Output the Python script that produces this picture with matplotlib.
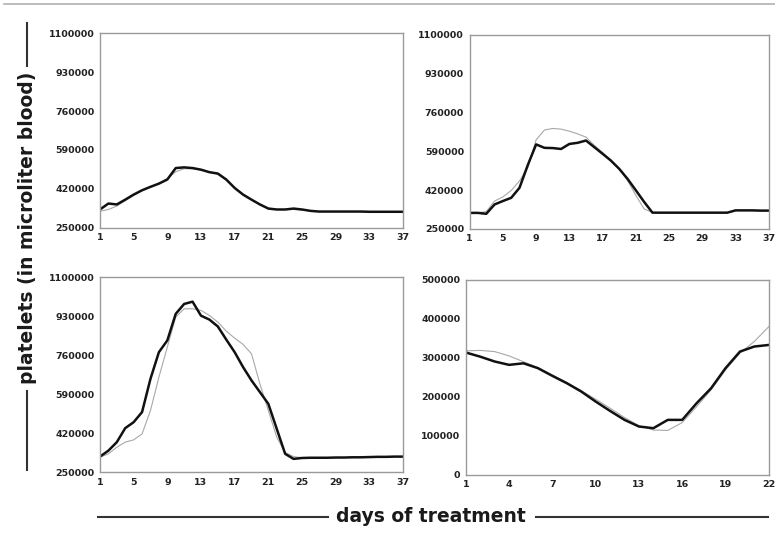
import numpy as np
import matplotlib
matplotlib.use("Agg")
import matplotlib.pyplot as plt
from matplotlib.lines import Line2D
from matplotlib.ticker import FuncFormatter

plt.rcParams['font.family'] = ['DejaVu Sans']

# days on the x axis
days_long = list(range(1, 38))
days_short = list(range(1, 23))

# top left panel
tl_black = [330000, 356000, 352000, 373000, 395000, 414000, 429000, 443000, 461000, 511000,
            514000, 511000, 504000, 493000, 487000, 461000, 424000, 395000, 373000, 352000,
            334000, 330000, 330000, 334000, 330000, 324000, 321000, 321000, 321000, 321000,
            321000, 321000, 320000, 320000, 320000, 320000, 320000]
tl_gray = [322000, 330000, 345000, 368000, 392000, 412000, 428000, 444000, 465000, 495000,
           508000, 508000, 502000, 494000, 484000, 458000, 426000, 397000, 374000, 352000,
           336000, 330000, 330000, 330000, 328000, 324000, 321000, 321000, 321000, 321000,
           321000, 321000, 320000, 320000, 320000, 320000, 320000]

# top right panel
tr_black = [320000, 320000, 316000, 357000, 372000, 386000, 430000, 530000, 620000, 605000,
            604000, 600000, 622000, 627000, 637000, 608000, 579000, 549000, 513000, 469000,
            419000, 368000, 321000, 321000, 321000, 321000, 321000, 321000, 321000, 321000,
            321000, 321000, 331000, 331000, 331000, 330000, 330000]
tr_gray = [320000, 320000, 326000, 372000, 390000, 418000, 460000, 518000, 640000, 683000,
           690000, 687000, 678000, 666000, 652000, 616000, 584000, 549000, 513000, 462000,
           397000, 337000, 322000, 321000, 321000, 321000, 321000, 321000, 321000, 321000,
           321000, 321000, 331000, 331000, 331000, 330000, 330000]

# bottom left panel
bl_black = [318000, 344000, 381000, 442000, 468000, 512000, 657000, 773000, 824000, 940000,
            983000, 993000, 932000, 915000, 885000, 828000, 773000, 708000, 650000, 599000,
            548000, 439000, 330000, 308000, 312000, 313000, 313000, 313000, 314000, 314000,
            315000, 315000, 316000, 317000, 317000, 318000, 318000]
bl_gray = [315000, 330000, 359000, 381000, 391000, 417000, 519000, 664000, 795000, 926000,
           962000, 962000, 955000, 933000, 904000, 865000, 834000, 807000, 766000, 635000,
           519000, 403000, 336000, 318000, 313000, 313000, 313000, 313000, 314000, 314000,
           315000, 315000, 316000, 317000, 317000, 318000, 318000]

# bottom right panel
br_black = [313700, 303000, 290600, 282000, 286000, 273500, 253800, 235000, 213700, 188000,
            164000, 141000, 124000, 119700, 141000, 141000, 183800, 222000, 273500, 316000,
            329000, 333000]
br_gray = [318000, 319000, 316000, 305000, 290000, 275000, 256000, 237000, 216000, 194000,
           171000, 147000, 126000, 115000, 114000, 134000, 175000, 218000, 269000, 312000,
           342000, 380000]

fig = plt.figure(figsize=(7.75, 5.36), dpi=100)
fig.patch.set_facecolor('white')

panels = [
    ([0.129, 0.575, 0.391, 0.363], days_long, tl_black, tl_gray, (250000, 1100000, 170000), 4),
    ([0.606, 0.573, 0.386, 0.362], days_long, tr_black, tr_gray, (250000, 1100000, 170000), 4),
    ([0.129, 0.119, 0.391, 0.364], days_long, bl_black, bl_gray, (250000, 1100000, 170000), 4),
    ([0.601, 0.114, 0.391, 0.364], days_short, br_black, br_gray, (0, 500000, 100000), 3),
]

plain = FuncFormatter(lambda v, pos: f'{int(round(v))}')

for rect, x, black, gray, (ylo, yhi, ystep), xstep in panels:
    ax = fig.add_axes(rect)
    ax.plot(x, gray, color='#a8a8a8', lw=0.8)
    ax.plot(x, black, color='#111111', lw=1.8)
    ax.set_xlim(x[0], x[-1])
    ax.set_ylim(ylo, yhi)
    ax.set_xticks(np.arange(x[0], x[-1] + 1, xstep))
    ax.set_yticks(np.arange(ylo, yhi + 1, ystep))
    ax.yaxis.set_major_formatter(plain)
    ax.tick_params(length=0, pad=4)
    for lab in ax.get_xticklabels() + ax.get_yticklabels():
        lab.set_fontsize(6.8)
        lab.set_fontweight('bold')
        lab.set_color('#222222')
    for s in ax.spines.values():
        s.set_color('#9a9a9a')
        s.set_linewidth(1.0)

# axis titles with rules beside them
fig.text(0.036, 1 - 228 / 536, 'platelets (in microliter blood)', rotation=90,
         ha='center', va='center', fontsize=13.5, fontweight='bold', color='#1a1a1a')
fig.text(431 / 775, 1 - 517 / 536, 'days of treatment', ha='center', va='center',
         fontsize=13.5, fontweight='bold', color='#1a1a1a')

fig.add_artist(Line2D([0.035, 0.035], [1 - 23 / 536, 1 - 66 / 536], color='#333333', lw=1.5))
fig.add_artist(Line2D([0.035, 0.035], [1 - 391 / 536, 1 - 470 / 536], color='#333333', lw=1.5))
fig.add_artist(Line2D([98 / 775, 328 / 775], [1 - 517 / 536] * 2, color='#333333', lw=1.5))
fig.add_artist(Line2D([536 / 775, 768 / 775], [1 - 517 / 536] * 2, color='#333333', lw=1.5))
fig.add_artist(Line2D([0.005, 1.0], [1 - 4 / 536] * 2, color='#b0b0b0', lw=1.2))

fig.savefig('out.png', dpi=100)
